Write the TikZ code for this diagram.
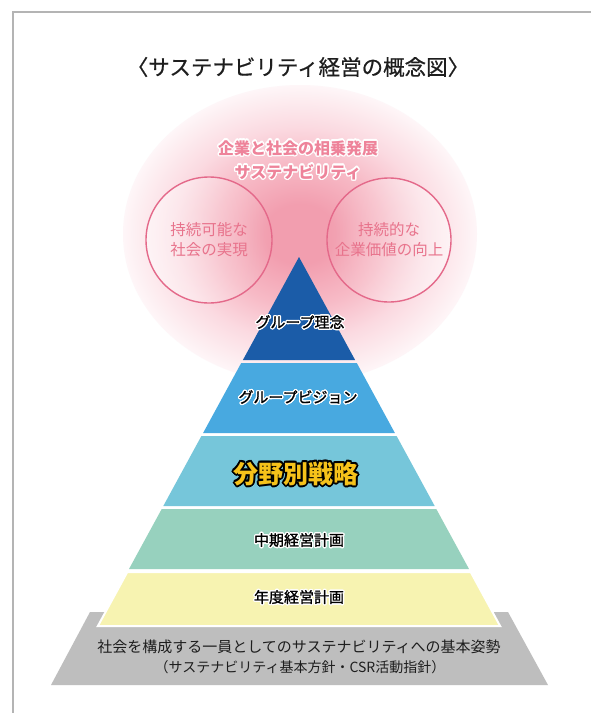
\documentclass[tikz,border=0pt]{standalone}
\usepackage{fontspec}
\setmainfont{Noto Sans CJK JP}
\newfontfamily\medjp{Noto Sans CJK JP}[FakeBold=1.2]
\newfontfamily\semijp{Noto Sans CJK JP}[FakeBold=0.6]
\usetikzlibrary{fadings}
\definecolor{framec}{HTML}{B4B4B4}
\definecolor{titlec}{HTML}{1E1E1E}
\definecolor{glowA}{HTML}{F29EAF}
\definecolor{glowB}{HTML}{F7BAC6}
\definecolor{glowC}{HTML}{FBDAE1}
\definecolor{glowD}{HTML}{FDEEF1}
\definecolor{glowE}{HTML}{FEF6F8}
\definecolor{pinktxt}{HTML}{EE839A}
\definecolor{circc}{HTML}{E4698A}
\definecolor{circtxt}{HTML}{E8738C}
\definecolor{layA}{HTML}{1B5CA8}
\definecolor{layB}{HTML}{48A9E0}
\definecolor{layC}{HTML}{76C6DA}
\definecolor{layD}{HTML}{97D1BE}
\definecolor{layE}{HTML}{F7F3B1}
\definecolor{basec}{HTML}{BEBEBE}
\definecolor{goldc}{HTML}{F6C21A}
\pgfdeclareradialshading{glow}{\pgfpoint{0bp}{0bp}}{color(0bp)=(glowA); color(5bp)=(glowA); color(12bp)=(glowB); color(18bp)=(glowC); color(23bp)=(glowD); color(25bp)=(glowE); color(50bp)=(glowE)}
% outlined text: offset copies in the outline colour under the text
\newcommand\halo[7]{% name, position, outline colour, radius, text colour, font, text
  \foreach \ang in {0,22.5,...,337.5}
    \node[text=#3, font=#6, align=center, inner sep=0pt, shift={(\ang:#4)}] at (#2) {#7};
  \node[text=#5, font=#6, align=center, inner sep=0pt] (#1) at (#2) {#7};
}
\tikzset{
  circlabel/.style={circle, draw=circc, line width=1.4pt, minimum size=126pt, inner sep=0pt,
    text=circtxt, align=center, font=\fontsize{15.5}{20}\selectfont},
  basetext/.style={text=titlec, align=center, inner sep=0pt},
}
\begin{document}
\begin{tikzpicture}[x=1pt,y=-1pt]
\useasboundingbox (0,0) rectangle (591,713);
\fill[white] (0,0) rectangle (591,713);
\draw[framec, line width=1.5pt] (13,713) -- (13,12) -- (591,12);

\node[font=\semijp\fontsize{21.5}{26}\selectfont, text=titlec, inner sep=0pt] (title) at (298,67) {〈サステナビリティ経営の概念図〉};

% glow
\path[shading=glow] (300,234) ellipse [x radius=177, y radius=149];

% small circles
\fill[white, path fading=east, fill opacity=0.5] (209,240) circle [radius=63];
\fill[white, path fading=west, fill opacity=0.5] (389,240) circle [radius=62];
\node[circlabel] (c1) at (209,240) {持続可能な\\社会の実現};
\node[circlabel, minimum size=124pt] (c2) at (389,240) {持続的な\\企業価値の向上};

\halo{head}{298,160}{white}{1.3}{pinktxt}{\fontsize{16}{24}\selectfont\bfseries}{企業と社会の相乗発展\\サステナビリティ}

% base
\fill[basec] (90,612) -- (508,612) -- (548,685) -- (51,685) -- cycle;

% pyramid
\fill[layA] (299,257) -- (355.1,360) -- (242.9,360) -- cycle;
\fill[layB] (241.2,363) -- (356.8,363) -- (394.9,433) -- (203.1,433) -- cycle;
\fill[layC] (201.4,436) -- (396.6,436) -- (434.7,506) -- (163.3,506) -- cycle;
\fill[layD] (161.7,509) -- (436.3,509) -- (469.0,569) -- (129.0,569) -- cycle;
\filldraw[fill=layE, draw=white, line width=2pt] (127.3,572) -- (470.7,572) -- (500.1,626) -- (97.9,626) -- cycle;

\halo{l1}{300,322}{white}{1.3}{black}{\medjp\fontsize{15}{18}\selectfont}{グループ理念}
\halo{l2}{298,397}{white}{1.3}{black}{\medjp\fontsize{15}{18}\selectfont}{グループビジョン}
\halo{l3}{296,474}{black}{1.6}{goldc}{\fontsize{25}{30}\selectfont\bfseries}{分野別戦略}
\halo{l4}{299,540}{white}{1.3}{black}{\medjp\fontsize{15}{18}\selectfont}{中期経営計画}
\halo{l5}{299,597}{white}{1.3}{black}{\medjp\fontsize{15}{18}\selectfont}{年度経営計画}

\node[basetext, font=\fontsize{15}{18}\selectfont] (b1) at (299,647) {社会を構成する一員としてのサステナビリティへの基本姿勢};
\node[basetext, font=\fontsize{14}{17}\selectfont] (b2) at (300,667) {（サステナビリティ基本方針・CSR活動指針）};
\end{tikzpicture}
\end{document}
